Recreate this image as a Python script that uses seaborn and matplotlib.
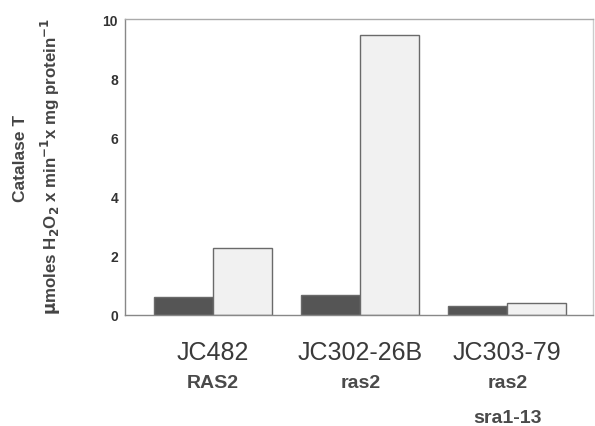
import matplotlib
matplotlib.use("Agg")
import matplotlib.pyplot as plt
import matplotlib.transforms as mtransforms
import seaborn as sns
import pandas as pd

strains = ["JC482", "JC302-26B", "JC303-79"]
genotypes = ["RAS2", "ras2", "ras2\nsra1-13"]
conditions = ["repressed", "derepressed"]
repressed = [0.60, 0.68, 0.30]
derepressed = [2.28, 9.47, 0.40]
yticks = [0, 2, 4, 6, 8, 10]

df = pd.DataFrame({
    "strain": strains * 2,
    "condition": [conditions[0]] * 3 + [conditions[1]] * 3,
    "activity": repressed + derepressed,
})

sns.set_style("white")
plt.rcParams["font.family"] = ["Liberation Sans", "DejaVu Sans"]

fig = plt.figure(figsize=(5.95, 4.27), dpi=100)
ax = fig.add_axes([0.210, 0.260, 0.786, 0.692])

sns.barplot(data=df, x="strain", y="activity", hue="condition",
            order=strains, hue_order=conditions,
            palette=["#555555", "#f1f1f1"], width=0.8,
            edgecolor="#6a6a6a", linewidth=1.0, saturation=1,
            legend=False, ax=ax)

ax.set_ylim(0, 10)
ax.set_xlim(-0.6, 2.58)
ax.set_yticks(yticks)
ax.set_yticklabels([str(t) for t in yticks], fontsize=10, fontweight="bold", color="#333333")
ax.tick_params(axis="y", direction="in", length=5, width=1, color="#777777", pad=5)
ax.tick_params(axis="x", length=0, pad=18)
ax.set_xticks(range(len(strains)))
ax.set_xticklabels(strains, fontsize=18, color="#3a3a3a")
trans = mtransforms.blended_transform_factory(ax.transData, ax.transAxes)
for i, g in enumerate(genotypes):
    ax.text(i, -0.2, g, transform=trans, ha="center", va="top",
            fontsize=14, fontweight="bold", color="#4a4a4a", linespacing=2.35)

ax.set_xlabel("")
ax.set_ylabel("")
for side, sp in ax.spines.items():
    sp.set_visible(True)
    sp.set_color("#888888")
    sp.set_linewidth(1.0)
ax.spines["top"].set_color("#aaaaaa")
ax.spines["right"].set_color("#cccccc")

fig.text(0.035, 0.63, "Catalase T", rotation=90, ha="center", va="center",
         fontsize=12.5, fontweight="bold", color="#444444")
fig.text(0.085, 0.611,
         r"$\mathbf{\mu}$moles H$_\mathbf{2}$O$_\mathbf{2}$ x min$^{\mathbf{-1}}$x mg protein$^{\mathbf{-1}}$",
         rotation=90, ha="center", va="center",
         fontsize=12.2, fontweight="bold", color="#444444")

fig.savefig("out.png", dpi=100)
